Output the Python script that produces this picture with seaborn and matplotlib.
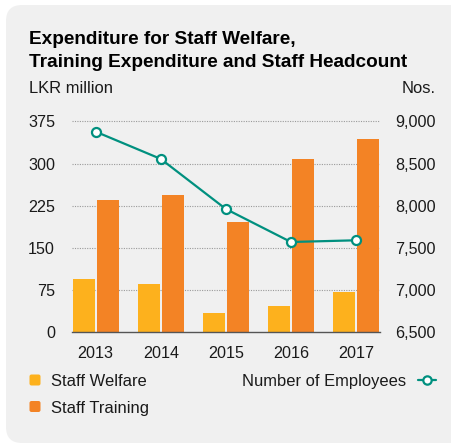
import numpy as np
import pandas as pd
import matplotlib
matplotlib.use("Agg")
import matplotlib.pyplot as plt
import seaborn as sns
from matplotlib.patches import FancyBboxPatch
from matplotlib.lines import Line2D

years = ["2013", "2014", "2015", "2016", "2017"]
staff_welfare = [94, 85, 34, 47, 72]
staff_training = [235, 244, 196, 308, 343]
employees = [8877, 8554, 7961, 7570, 7590]
left_ticks = [0, 75, 150, 225, 300, 375]
right_ticks = [6500, 7000, 7500, 8000, 8500, 9000]

YELLOW = "#FDB11D"
ORANGE = "#F38325"
TEAL = "#00907F"
BG = "#F0F0F0"
TXT = "#1a1a1a"

sns.set_theme(style="white")
plt.rcParams["font.family"] = ["Liberation Sans", "DejaVu Sans"]

W, H = 452, 445
fig = plt.figure(figsize=(W / 100, H / 100), dpi=100)
fig.patch.set_facecolor("white")

# background panel (pixel coordinates)
bg = fig.add_axes([0, 0, 1, 1], zorder=-10)
bg.set_xlim(0, W)
bg.set_ylim(H, 0)
bg.axis("off")
bg.add_patch(FancyBboxPatch((6, 5), 470, 438,
                            boxstyle="round,pad=0,rounding_size=16",
                            facecolor=BG, edgecolor="none"))

df = pd.DataFrame({
    "Year": years * 2,
    "Value": staff_welfare + staff_training,
    "Series": ["Staff Welfare"] * len(years) + ["Staff Training"] * len(years),
})

left, right = 71.7, 380.0
top, bottom = 121.3, 332.3
ax = fig.add_axes([left / W, 1 - bottom / H, (right - left) / W, (bottom - top) / H])
ax.set_facecolor("none")
sns.barplot(data=df, x="Year", y="Value", hue="Series", order=years,
            palette=[YELLOW, ORANGE], width=0.738, gap=0.07,
            saturation=1, legend=False, ax=ax, zorder=3, linewidth=0)
ax.set_xlim(-0.369, len(years) - 1 + 0.369)
ax.set_ylim(0, 375)
ax.set_yticks(left_ticks)
ax.set_yticklabels([str(t) for t in left_ticks])
ax.set_xlabel("")
ax.set_ylabel("")
for t in left_ticks[1:]:
    ax.axhline(t, color="#9a9a9a", lw=0.8, ls=(0, (1, 1.2)), zorder=1, clip_on=False)
for s in ["top", "right", "left"]:
    ax.spines[s].set_visible(False)
ax.spines["bottom"].set_color("#555555")
ax.spines["bottom"].set_linewidth(1.0)
ax.spines["bottom"].set_zorder(5)
ax.tick_params(axis="y", length=0, pad=12, labelsize=11.6, labelcolor=TXT)
ax.tick_params(axis="x", length=0, pad=10, labelsize=11.6, labelcolor=TXT)

ax2 = ax.twinx()
sns.lineplot(x=np.arange(len(years)), y=employees, ax=ax2, color=TEAL, lw=1.6,
             marker="o", markersize=6.5, markerfacecolor="white",
             markeredgecolor=TEAL, markeredgewidth=1.6, zorder=6, clip_on=False)
ax2.set_ylim(6500, 9000)
ax2.set_yticks(right_ticks)
ax2.set_yticklabels([f"{t:,}" for t in right_ticks])
for s in ["top", "right", "left", "bottom"]:
    ax2.spines[s].set_visible(False)
ax2.tick_params(axis="y", length=0, pad=11, labelsize=11.6, labelcolor=TXT)
ax2.set_ylabel("")

# titles and axis unit labels
bg.text(29, 44.5, "Expenditure for Staff Welfare,", fontsize=13.7, fontweight="bold",
        color="black", va="baseline", ha="left")
bg.text(29, 66.7, "Training Expenditure and Staff Headcount", fontsize=13.7,
        fontweight="bold", color="black", va="baseline", ha="left")
bg.text(29, 93.3, "LKR million", fontsize=11.9, color=TXT, va="baseline", ha="left")
bg.text(436, 93.3, "Nos.", fontsize=11.9, color=TXT, va="baseline", ha="right")

# legend
for yc, col, lab in [(380, YELLOW, "Staff Welfare"), (406.5, ORANGE, "Staff Training")]:
    bg.add_patch(FancyBboxPatch((29.5, yc - 5.5), 11, 11,
                                boxstyle="round,pad=0,rounding_size=2",
                                facecolor=col, edgecolor="none"))
    bg.text(51, yc, lab, fontsize=11.9, color=TXT, va="center_baseline", ha="left")
bg.text(406, 380, "Number of Employees", fontsize=11.9, color=TXT,
        va="center_baseline", ha="right")
bg.add_line(Line2D([418, 436], [380, 380], color=TEAL, lw=1.6))
bg.add_line(Line2D([427.5], [380], color=TEAL, marker="o", markersize=6,
                   markerfacecolor="white", markeredgecolor=TEAL, markeredgewidth=1.6))

fig.savefig("out.png", dpi=100, facecolor="white")
